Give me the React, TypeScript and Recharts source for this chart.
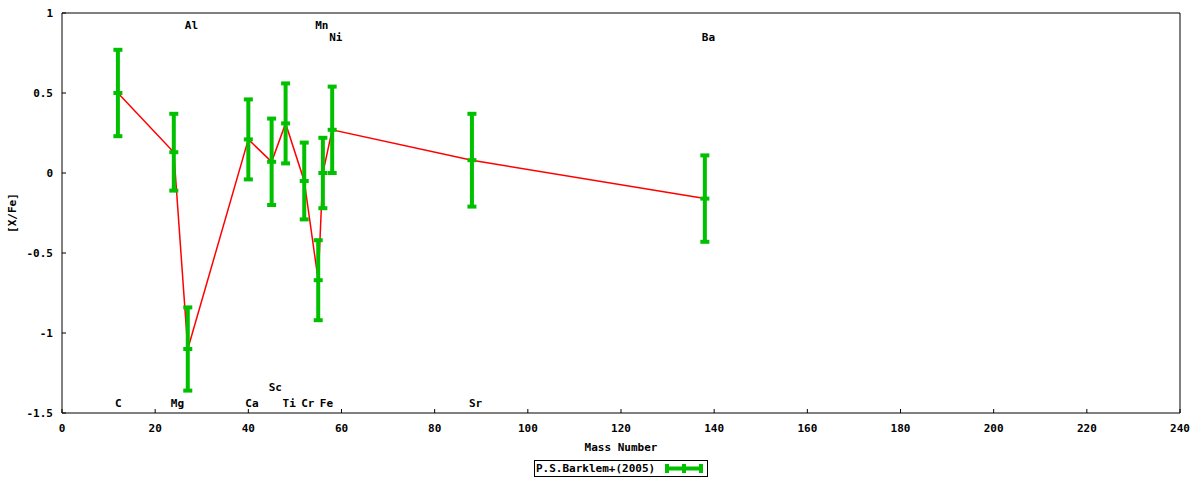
import React from 'react';
import { ComposedChart, Line, Scatter, ErrorBar, XAxis, YAxis, Legend, Label } from 'recharts';

// Barklem et al. (2005) abundance pattern
const elements = ['C', 'Mg', 'Al', 'Ca', 'Sc', 'Ti', 'Cr', 'Mn', 'Fe', 'Ni', 'Sr', 'Ba'];
const massNumbers = [12, 24, 27, 40, 45, 48, 52, 55, 56, 58, 88, 138];
const abundances = [0.5, 0.13, -1.1, 0.21, 0.07, 0.31, -0.05, -0.67, 0.0, 0.27, 0.08, -0.16];
const abundanceErrors = [0.27, 0.24, 0.26, 0.25, 0.27, 0.25, 0.24, 0.25, 0.22, 0.27, 0.29, 0.27];

// element labels: the y value (in [X/Fe] units) where each name is written
const labelHeights = [-1.44, -1.44, 0.92, -1.44, -1.34, -1.44, -1.44, 0.92, -1.44, 0.85, -1.44, 0.85];

const xTicks = [0, 20, 40, 60, 80, 100, 120, 140, 160, 180, 200, 220, 240];
const yTicks = [-1.5, -1, -0.5, 0, 0.5, 1];

const data = massNumbers.map((mass, i) => ({
  element: elements[i],
  mass,
  value: abundances[i],
  err: abundanceErrors[i],
}));

const labelData = massNumbers.map((mass, i) => ({
  element: elements[i],
  mass,
  labelY: labelHeights[i],
}));

const GREEN = '#00c000';
const RED = '#ff0000';
const FONT = '"DejaVu Sans Mono", monospace';

const tickStyle = { fill: '#000', fontFamily: FONT, fontSize: 11, fontWeight: 'bold' as const };

const PointMark = (props: any) => {
  const { cx, cy } = props;
  if (cx == null || cy == null) return null;
  return <line x1={cx - 4.5} x2={cx + 4.5} y1={cy} y2={cy} stroke={GREEN} strokeWidth={4} />;
};

const ElementLabel = (props: any) => {
  const { cx, cy, payload } = props;
  if (cx == null || cy == null) return null;
  return (
    <text x={cx - 3} y={cy} dominantBaseline="central" style={tickStyle}>
      {payload.element}
    </text>
  );
};

const NoMark = () => null;

const YTitle = (props: any) => {
  const { viewBox } = props;
  const cx = viewBox.x + 12.5;
  const cy = viewBox.y + viewBox.height / 2;
  return (
    <text
      x={cx}
      y={cy}
      textAnchor="middle"
      dominantBaseline="central"
      transform={`rotate(-90 ${cx} ${cy})`}
      style={tickStyle}
    >
      [X/Fe]
    </text>
  );
};

const LegendBox = () => (
  <div
    style={{
      margin: '0 auto',
      width: 174,
      height: 17,
      boxSizing: 'border-box',
      border: '1px solid #000',
      display: 'flex',
      alignItems: 'center',
      fontFamily: FONT,
      fontSize: 11,
      fontWeight: 'bold',
      color: '#000',
      paddingLeft: 1,
    }}
  >
    <span>P.S.Barklem+(2005)</span>
    <svg width={40} height={15} style={{ marginLeft: 9 }}>
      <line x1={2} x2={38} y1={7.5} y2={7.5} stroke={GREEN} strokeWidth={4} />
      <line x1={3} x2={3} y1={3} y2={12} stroke={GREEN} strokeWidth={4} />
      <line x1={20} x2={20} y1={3} y2={12} stroke={GREEN} strokeWidth={4} />
      <line x1={37} x2={37} y1={3} y2={12} stroke={GREEN} strokeWidth={4} />
    </svg>
  </div>
);

export default function App() {
  return (
    <div style={{ position: 'absolute', left: 0, top: 0, background: '#fff' }}>
      <ComposedChart width={1200} height={480} data={data} margin={{ top: 12, right: 19, left: 0, bottom: 3 }}>
        <XAxis
          dataKey="mass"
          type="number"
          domain={[0, 240]}
          ticks={xTicks}
          allowDataOverflow
          height={47}
          tickSize={-4}
          tickMargin={15}
          tick={tickStyle}
          axisLine={{ stroke: '#000' }}
          tickLine={{ stroke: '#000' }}
        >
          <Label value="Mass Number" position="insideBottom" offset={9} style={tickStyle} />
        </XAxis>
        <XAxis
          xAxisId="top"
          orientation="top"
          dataKey="mass"
          type="number"
          domain={[0, 240]}
          ticks={xTicks}
          allowDataOverflow
          height={1}
          tickSize={-4}
          tick={false}
          axisLine={{ stroke: '#000' }}
          tickLine={{ stroke: '#000' }}
        />
        <YAxis
          type="number"
          domain={[-1.5, 1]}
          ticks={yTicks}
          allowDataOverflow
          width={62}
          tickSize={-4}
          tickMargin={13}
          tick={tickStyle}
          axisLine={{ stroke: '#000' }}
          tickLine={{ stroke: '#000' }}
        >
          <Label content={YTitle} />
        </YAxis>
        <YAxis
          yAxisId="right"
          orientation="right"
          type="number"
          domain={[-1.5, 1]}
          ticks={yTicks}
          allowDataOverflow
          width={1}
          tickSize={-4}
          tick={false}
          axisLine={{ stroke: '#000' }}
          tickLine={{ stroke: '#000' }}
        />
        <Legend
          verticalAlign="bottom"
          align="center"
          content={<LegendBox />}
          wrapperStyle={{ left: 62, width: 1118 }}
        />
        <Line
          dataKey="value"
          stroke={RED}
          strokeWidth={1.5}
          dot={false}
          activeDot={false}
          isAnimationActive={false}
          legendType="none"
        />
        <Scatter dataKey="value" fill={GREEN} shape={PointMark} isAnimationActive={false} legendType="none">
          <ErrorBar dataKey="err" direction="y" width={4.5} stroke={GREEN} strokeWidth={4} isAnimationActive={false} />
        </Scatter>
        <Scatter data={labelData} dataKey="labelY" shape={ElementLabel} isAnimationActive={false} legendType="none" />
        {/* mirror axes (top/right frame) need a bound series to be drawn */}
        <Scatter
          xAxisId="top"
          yAxisId="right"
          dataKey="value"
          shape={NoMark}
          isAnimationActive={false}
          legendType="none"
        />
      </ComposedChart>
    </div>
  );
}
